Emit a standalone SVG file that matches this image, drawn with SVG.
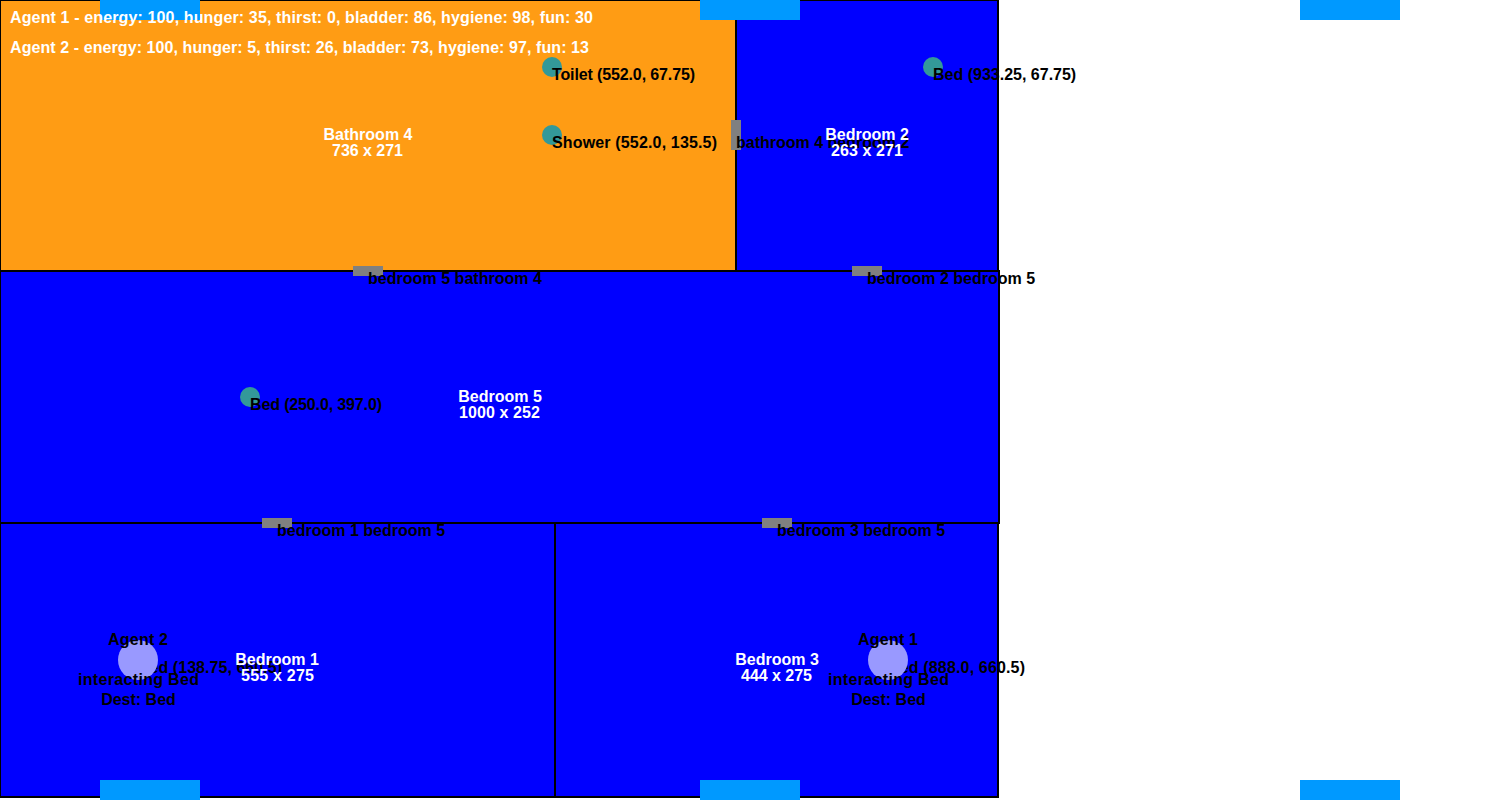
<svg xmlns="http://www.w3.org/2000/svg" width="1500" height="800" viewBox="0 0 1500 800">
<style>
text{font-family:"Liberation Sans",Arial,sans-serif;font-weight:700;font-size:16px}
.room{stroke:#000;stroke-width:2}
.b{fill:#0000ff}
.o{fill:#ff9c14}
.w{fill:#fff}
.c{text-anchor:middle}
.win{fill:#0099ff}
.door{fill:#808080}
.obj{fill:#339999}
.agent{fill:#9999ff}
</style>
<rect width="1500" height="800" fill="#fff"/>
<g id="room-bathroom4"><rect class="room o" x="0" y="0" width="736" height="271"/></g>
<g id="room-bedroom2"><rect class="room b" x="736" y="0" width="262" height="271"/></g>
<g id="room-bedroom5"><rect class="room b" x="0" y="271" width="999" height="252"/></g>
<g id="room-bedroom1"><rect class="room b" x="0" y="523" width="555" height="274"/></g>
<g id="room-bedroom3"><rect class="room b" x="555" y="523" width="443" height="274"/></g>
<g id="windows">
<rect class="win" x="100" y="0" width="100" height="20"/><rect class="win" x="700" y="0" width="100" height="20"/><rect class="win" x="1300" y="0" width="100" height="20"/>
<rect class="win" x="100" y="780" width="100" height="20"/><rect class="win" x="700" y="780" width="100" height="20"/><rect class="win" x="1300" y="780" width="100" height="20"/>
</g>
<g id="connectors">
<g id="door-b5-ba4"><rect class="door" x="353" y="266" width="30" height="10"/><text x="368" y="284" textLength="174">bedroom 5 bathroom 4</text></g>
<g id="door-b2-b5"><rect class="door" x="852" y="266" width="30" height="10"/><text x="867" y="284">bedroom 2 bedroom 5</text></g>
<g id="door-b1-b5"><rect class="door" x="262" y="518" width="30" height="10"/><text x="277" y="536">bedroom 1 bedroom 5</text></g>
<g id="door-b3-b5"><rect class="door" x="762" y="518" width="30" height="10"/><text x="777" y="536">bedroom 3 bedroom 5</text></g>
<g id="door-ba4-b2"><rect class="door" x="731" y="120" width="10" height="30"/><text x="736" y="148">bathroom 4 bedroom 2</text></g>
</g>
<g id="obj-toilet"><circle class="obj" cx="552" cy="67" r="10"/><text x="552" y="80" textLength="143">Toilet (552.0, 67.75)</text></g>
<g id="obj-shower"><circle class="obj" cx="552" cy="135" r="10"/><text x="552" y="148" textLength="165">Shower (552.0, 135.5)</text></g>
<g id="obj-bed2"><circle class="obj" cx="933" cy="67" r="10"/><text x="933" y="80">Bed (933.25, 67.75)</text></g>
<g id="obj-bed5"><circle class="obj" cx="250" cy="397" r="10"/><text x="250" y="410" textLength="132">Bed (250.0, 397.0)</text></g>
<g id="obj-bed1"><text x="138" y="673" textLength="144">Bed (138.75, 660.5)</text></g>
<g id="obj-bed3"><text x="888" y="673" textLength="137">Bed (888.0, 660.5)</text></g>
<g id="label-bathroom4"><text class="w c" x="368" y="140">Bathroom 4</text><text class="w c" x="367.5" y="156" textLength="71">736 x 271</text></g>
<g id="label-bedroom2"><text class="w c" x="867" y="140">Bedroom 2</text><text class="w c" x="867" y="156" textLength="72">263 x 271</text></g>
<g id="label-bedroom5"><text class="w c" x="500" y="402">Bedroom 5</text><text class="w c" x="499.5" y="418" textLength="81">1000 x 252</text></g>
<g id="label-bedroom1"><text class="w c" x="277" y="665">Bedroom 1</text><text class="w c" x="277.5" y="681" textLength="73">555 x 275</text></g>
<g id="label-bedroom3"><text class="w c" x="777" y="665">Bedroom 3</text><text class="w c" x="776.5" y="681" textLength="71">444 x 275</text></g>
<g id="agent-2"><circle class="agent" cx="138" cy="660" r="20"/><text class="c" x="138" y="645" textLength="60">Agent 2</text><text class="c" x="138.5" y="685" textLength="121">interacting Bed</text><text class="c" x="138.5" y="705">Dest: Bed</text></g>
<g id="agent-1"><circle class="agent" cx="888" cy="660" r="20"/><text class="c" x="888" y="645" textLength="60">Agent 1</text><text class="c" x="888.5" y="685" textLength="121">interacting Bed</text><text class="c" x="888.5" y="705">Dest: Bed</text></g>
<g id="status"><text class="w" x="10" y="23" textLength="583">Agent 1 - energy: 100, hunger: 35, thirst: 0, bladder: 86, hygiene: 98, fun: 30</text><text class="w" x="10" y="53" textLength="579">Agent 2 - energy: 100, hunger: 5, thirst: 26, bladder: 73, hygiene: 97, fun: 13</text></g>
</svg>
